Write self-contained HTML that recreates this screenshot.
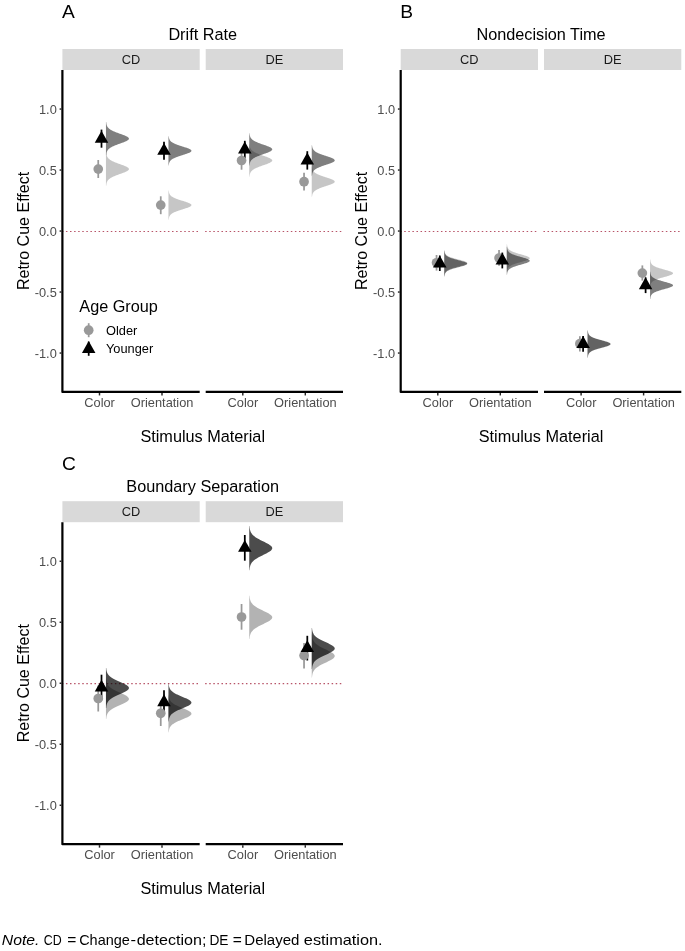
<!DOCTYPE html>
<html lang="en"><head><meta charset="utf-8"><title>Figure</title>
<style>html,body{margin:0;padding:0;background:#fff}svg{display:block}text{font-family:'Liberation Sans', Arial, sans-serif}</style>
</head><body>
<svg width="685" height="951" viewBox="0 0 685 951">
<rect width="685" height="951" fill="#fff"/>
<text x="62.00" y="17.60" font-size="19.2" fill="#000">A</text>
<text x="202.70" y="40.20" font-size="16.25" fill="#000" text-anchor="middle">Drift Rate</text>
<rect x="62.40" y="49.00" width="137.30" height="21.00" fill="#d9d9d9"/>
<text x="131.05" y="64.20" font-size="12.8" fill="#1a1a1a" text-anchor="middle">CD</text>
<line x1="61.85" y1="231.45" x2="199.70" y2="231.45" stroke="#b85468" stroke-width="1.15" stroke-dasharray="1.5 2.58"/>
<line x1="99.50" y1="392.95" x2="99.50" y2="395.45" stroke="#262626" stroke-width="1.45"/>
<text x="99.60" y="406.90" font-size="12.8" fill="#4d4d4d" text-anchor="middle">Color</text>
<line x1="162.00" y1="392.95" x2="162.00" y2="395.45" stroke="#262626" stroke-width="1.45"/>
<text x="162.10" y="406.90" font-size="12.8" fill="#4d4d4d" text-anchor="middle">Orientation</text>
<rect x="205.70" y="49.00" width="137.30" height="21.00" fill="#d9d9d9"/>
<text x="274.35" y="64.20" font-size="12.8" fill="#1a1a1a" text-anchor="middle">DE</text>
<line x1="205.15" y1="231.45" x2="343.00" y2="231.45" stroke="#b85468" stroke-width="1.15" stroke-dasharray="1.5 2.58"/>
<line x1="205.70" y1="391.95" x2="343.00" y2="391.95" stroke="#000" stroke-width="2.2"/>
<line x1="242.80" y1="392.95" x2="242.80" y2="395.45" stroke="#262626" stroke-width="1.45"/>
<text x="242.90" y="406.90" font-size="12.8" fill="#4d4d4d" text-anchor="middle">Color</text>
<line x1="305.30" y1="392.95" x2="305.30" y2="395.45" stroke="#262626" stroke-width="1.45"/>
<text x="305.40" y="406.90" font-size="12.8" fill="#4d4d4d" text-anchor="middle">Orientation</text>
<path d="M62.40 70.00 L62.40 391.95 L199.70 391.95" fill="none" stroke="#000" stroke-width="2.2" stroke-linejoin="round"/>
<line x1="59.60" y1="109.05" x2="61.40" y2="109.05" stroke="#262626" stroke-width="1.45"/>
<text x="56.80" y="114.00" font-size="12.8" fill="#4d4d4d" text-anchor="end">1.0</text>
<line x1="59.60" y1="170.05" x2="61.40" y2="170.05" stroke="#262626" stroke-width="1.45"/>
<text x="56.80" y="175.00" font-size="12.8" fill="#4d4d4d" text-anchor="end">0.5</text>
<line x1="59.60" y1="231.05" x2="61.40" y2="231.05" stroke="#262626" stroke-width="1.45"/>
<text x="56.80" y="236.00" font-size="12.8" fill="#4d4d4d" text-anchor="end">0.0</text>
<line x1="59.60" y1="292.05" x2="61.40" y2="292.05" stroke="#262626" stroke-width="1.45"/>
<text x="56.80" y="297.00" font-size="12.8" fill="#4d4d4d" text-anchor="end">-0.5</text>
<line x1="59.60" y1="353.05" x2="61.40" y2="353.05" stroke="#262626" stroke-width="1.45"/>
<text x="56.80" y="358.00" font-size="12.8" fill="#4d4d4d" text-anchor="end">-1.0</text>
<text transform="translate(28.80 230.97) rotate(-90)" font-size="16.05" fill="#000" text-anchor="middle">Retro Cue Effect</text>
<text x="202.70" y="441.70" font-size="16.25" fill="#000" text-anchor="middle">Stimulus Material</text>
<path d="M105.95 152.44 L106.22 152.44 L106.26 152.86 L106.30 153.28 L106.36 153.69 L106.42 154.11 L106.49 154.53 L106.58 154.94 L106.69 155.36 L106.82 155.78 L106.97 156.19 L107.16 156.61 L107.38 157.03 L107.63 157.44 L107.93 157.86 L108.28 158.27 L108.69 158.69 L109.15 159.11 L109.67 159.52 L110.26 159.94 L110.93 160.36 L111.66 160.77 L112.46 161.19 L113.34 161.61 L114.28 162.02 L115.29 162.44 L116.35 162.85 L117.46 163.27 L118.60 163.69 L119.76 164.10 L120.92 164.52 L122.07 164.94 L123.20 165.35 L124.27 165.77 L125.27 166.19 L126.18 166.60 L126.99 167.02 L127.67 167.43 L128.22 167.85 L128.62 168.27 L128.87 168.68 L128.95 169.10 L128.87 169.52 L128.62 169.93 L128.22 170.35 L127.67 170.77 L126.99 171.18 L126.18 171.60 L125.27 172.01 L124.27 172.43 L123.20 172.85 L122.07 173.26 L120.92 173.68 L119.76 174.10 L118.60 174.51 L117.46 174.93 L116.35 175.35 L115.29 175.76 L114.28 176.18 L113.34 176.59 L112.46 177.01 L111.66 177.43 L110.93 177.84 L110.26 178.26 L109.67 178.68 L109.15 179.09 L108.69 179.51 L108.28 179.93 L107.93 180.34 L107.63 180.76 L107.38 181.17 L107.16 181.59 L106.97 182.01 L106.82 182.42 L106.69 182.84 L106.58 183.26 L106.49 183.67 L106.42 184.09 L106.36 184.51 L106.30 184.92 L106.26 185.34 L106.22 185.76 L105.95 185.76 Z" fill="#999" fill-opacity="0.56"/>
<path d="M168.45 190.57 L168.72 190.57 L168.76 190.94 L168.80 191.30 L168.85 191.66 L168.91 192.03 L168.99 192.39 L169.08 192.75 L169.18 193.12 L169.31 193.48 L169.46 193.84 L169.65 194.21 L169.86 194.57 L170.12 194.93 L170.42 195.30 L170.76 195.66 L171.16 196.02 L171.62 196.38 L172.15 196.75 L172.74 197.11 L173.40 197.47 L174.13 197.84 L174.93 198.20 L175.81 198.56 L176.75 198.93 L177.76 199.29 L178.82 199.65 L179.93 200.02 L181.07 200.38 L182.23 200.74 L183.40 201.11 L184.55 201.47 L185.68 201.83 L186.75 202.19 L187.75 202.56 L188.67 202.92 L189.48 203.28 L190.17 203.65 L190.72 204.01 L191.12 204.37 L191.37 204.74 L191.45 205.10 L191.37 205.46 L191.12 205.83 L190.72 206.19 L190.17 206.55 L189.48 206.92 L188.67 207.28 L187.75 207.64 L186.75 208.01 L185.68 208.37 L184.55 208.73 L183.40 209.09 L182.23 209.46 L181.07 209.82 L179.93 210.18 L178.82 210.55 L177.76 210.91 L176.75 211.27 L175.81 211.64 L174.93 212.00 L174.13 212.36 L173.40 212.73 L172.74 213.09 L172.15 213.45 L171.62 213.82 L171.16 214.18 L170.76 214.54 L170.42 214.90 L170.12 215.27 L169.86 215.63 L169.65 215.99 L169.46 216.36 L169.31 216.72 L169.18 217.08 L169.08 217.45 L168.99 217.81 L168.91 218.17 L168.85 218.54 L168.80 218.90 L168.76 219.26 L168.72 219.63 L168.45 219.63 Z" fill="#999" fill-opacity="0.56"/>
<path d="M249.25 144.28 L249.52 144.28 L249.56 144.69 L249.60 145.09 L249.65 145.50 L249.71 145.90 L249.79 146.31 L249.88 146.71 L249.98 147.12 L250.11 147.52 L250.27 147.93 L250.45 148.33 L250.66 148.74 L250.92 149.15 L251.22 149.55 L251.57 149.96 L251.97 150.36 L252.43 150.77 L252.95 151.17 L253.54 151.58 L254.20 151.98 L254.93 152.39 L255.74 152.80 L256.61 153.20 L257.56 153.61 L258.56 154.01 L259.62 154.42 L260.73 154.82 L261.87 155.23 L263.03 155.63 L264.20 156.04 L265.36 156.44 L266.48 156.85 L267.55 157.26 L268.56 157.66 L269.47 158.07 L270.28 158.47 L270.97 158.88 L271.52 159.28 L271.92 159.69 L272.17 160.09 L272.25 160.50 L272.17 160.91 L271.92 161.31 L271.52 161.72 L270.97 162.12 L270.28 162.53 L269.47 162.93 L268.56 163.34 L267.55 163.74 L266.48 164.15 L265.36 164.56 L264.20 164.96 L263.03 165.37 L261.87 165.77 L260.73 166.18 L259.62 166.58 L258.56 166.99 L257.56 167.39 L256.61 167.80 L255.74 168.20 L254.93 168.61 L254.20 169.02 L253.54 169.42 L252.95 169.83 L252.43 170.23 L251.97 170.64 L251.57 171.04 L251.22 171.45 L250.92 171.85 L250.66 172.26 L250.45 172.67 L250.27 173.07 L250.11 173.48 L249.98 173.88 L249.88 174.29 L249.79 174.69 L249.71 175.10 L249.65 175.50 L249.60 175.91 L249.56 176.31 L249.52 176.72 L249.25 176.72 Z" fill="#999" fill-opacity="0.56"/>
<path d="M311.75 166.59 L312.02 166.59 L312.06 166.97 L312.10 167.35 L312.16 167.73 L312.22 168.11 L312.29 168.48 L312.38 168.86 L312.49 169.24 L312.62 169.62 L312.78 169.99 L312.96 170.37 L313.18 170.75 L313.44 171.13 L313.74 171.50 L314.09 171.88 L314.49 172.26 L314.95 172.64 L315.48 173.01 L316.07 173.39 L316.73 173.77 L317.47 174.15 L318.27 174.52 L319.15 174.90 L320.09 175.28 L321.10 175.66 L322.16 176.04 L323.27 176.41 L324.41 176.79 L325.56 177.17 L326.73 177.55 L327.88 177.92 L329.00 178.30 L330.07 178.68 L331.07 179.06 L331.98 179.43 L332.79 179.81 L333.48 180.19 L334.02 180.57 L334.42 180.94 L334.67 181.32 L334.75 181.70 L334.67 182.08 L334.42 182.46 L334.02 182.83 L333.48 183.21 L332.79 183.59 L331.98 183.97 L331.07 184.34 L330.07 184.72 L329.00 185.10 L327.88 185.48 L326.73 185.85 L325.56 186.23 L324.41 186.61 L323.27 186.99 L322.16 187.36 L321.10 187.74 L320.09 188.12 L319.15 188.50 L318.27 188.88 L317.47 189.25 L316.73 189.63 L316.07 190.01 L315.48 190.39 L314.95 190.76 L314.49 191.14 L314.09 191.52 L313.74 191.90 L313.44 192.27 L313.18 192.65 L312.96 193.03 L312.78 193.41 L312.62 193.78 L312.49 194.16 L312.38 194.54 L312.29 194.92 L312.22 195.29 L312.16 195.67 L312.10 196.05 L312.06 196.43 L312.02 196.81 L311.75 196.81 Z" fill="#999" fill-opacity="0.56"/>
<path d="M105.95 122.04 L106.22 122.04 L106.26 122.46 L106.30 122.88 L106.36 123.29 L106.42 123.71 L106.49 124.13 L106.58 124.54 L106.69 124.96 L106.82 125.38 L106.97 125.79 L107.16 126.21 L107.38 126.63 L107.63 127.04 L107.93 127.46 L108.28 127.87 L108.69 128.29 L109.15 128.71 L109.67 129.12 L110.26 129.54 L110.93 129.96 L111.66 130.37 L112.46 130.79 L113.34 131.21 L114.28 131.62 L115.29 132.04 L116.35 132.45 L117.46 132.87 L118.60 133.29 L119.76 133.70 L120.92 134.12 L122.07 134.54 L123.20 134.95 L124.27 135.37 L125.27 135.79 L126.18 136.20 L126.99 136.62 L127.67 137.03 L128.22 137.45 L128.62 137.87 L128.87 138.28 L128.95 138.70 L128.87 139.12 L128.62 139.53 L128.22 139.95 L127.67 140.37 L126.99 140.78 L126.18 141.20 L125.27 141.61 L124.27 142.03 L123.20 142.45 L122.07 142.86 L120.92 143.28 L119.76 143.70 L118.60 144.11 L117.46 144.53 L116.35 144.95 L115.29 145.36 L114.28 145.78 L113.34 146.19 L112.46 146.61 L111.66 147.03 L110.93 147.44 L110.26 147.86 L109.67 148.28 L109.15 148.69 L108.69 149.11 L108.28 149.53 L107.93 149.94 L107.63 150.36 L107.38 150.77 L107.16 151.19 L106.97 151.61 L106.82 152.02 L106.69 152.44 L106.58 152.86 L106.49 153.27 L106.42 153.69 L106.36 154.11 L106.30 154.52 L106.26 154.94 L106.22 155.36 L105.95 155.36 Z" fill="#000" fill-opacity="0.5"/>
<path d="M168.45 136.13 L168.72 136.13 L168.76 136.50 L168.80 136.86 L168.85 137.23 L168.91 137.60 L168.99 137.96 L169.08 138.33 L169.19 138.70 L169.31 139.06 L169.47 139.43 L169.65 139.80 L169.87 140.16 L170.12 140.53 L170.42 140.90 L170.77 141.26 L171.17 141.63 L171.63 142.00 L172.15 142.36 L172.74 142.73 L173.40 143.10 L174.14 143.46 L174.94 143.83 L175.82 144.20 L176.76 144.56 L177.77 144.93 L178.83 145.30 L179.94 145.67 L181.08 146.03 L182.24 146.40 L183.41 146.77 L184.56 147.13 L185.68 147.50 L186.76 147.87 L187.76 148.23 L188.67 148.60 L189.48 148.97 L190.17 149.33 L190.72 149.70 L191.12 150.07 L191.37 150.43 L191.45 150.80 L191.37 151.17 L191.12 151.53 L190.72 151.90 L190.17 152.27 L189.48 152.63 L188.67 153.00 L187.76 153.37 L186.76 153.73 L185.68 154.10 L184.56 154.47 L183.41 154.83 L182.24 155.20 L181.08 155.57 L179.94 155.93 L178.83 156.30 L177.77 156.67 L176.76 157.04 L175.82 157.40 L174.94 157.77 L174.14 158.14 L173.40 158.50 L172.74 158.87 L172.15 159.24 L171.63 159.60 L171.17 159.97 L170.77 160.34 L170.42 160.70 L170.12 161.07 L169.87 161.44 L169.65 161.80 L169.47 162.17 L169.31 162.54 L169.19 162.90 L169.08 163.27 L168.99 163.64 L168.91 164.00 L168.85 164.37 L168.80 164.74 L168.76 165.10 L168.72 165.47 L168.45 165.47 Z" fill="#000" fill-opacity="0.5"/>
<path d="M249.25 133.18 L249.52 133.18 L249.56 133.59 L249.60 133.99 L249.65 134.40 L249.71 134.80 L249.79 135.21 L249.88 135.61 L249.98 136.02 L250.11 136.42 L250.27 136.83 L250.45 137.23 L250.66 137.64 L250.92 138.05 L251.22 138.45 L251.57 138.86 L251.97 139.26 L252.43 139.67 L252.95 140.07 L253.54 140.48 L254.20 140.88 L254.93 141.29 L255.74 141.70 L256.61 142.10 L257.56 142.51 L258.56 142.91 L259.62 143.32 L260.73 143.72 L261.87 144.13 L263.03 144.53 L264.20 144.94 L265.36 145.34 L266.48 145.75 L267.55 146.16 L268.56 146.56 L269.47 146.97 L270.28 147.37 L270.97 147.78 L271.52 148.18 L271.92 148.59 L272.17 148.99 L272.25 149.40 L272.17 149.81 L271.92 150.21 L271.52 150.62 L270.97 151.02 L270.28 151.43 L269.47 151.83 L268.56 152.24 L267.55 152.64 L266.48 153.05 L265.36 153.46 L264.20 153.86 L263.03 154.27 L261.87 154.67 L260.73 155.08 L259.62 155.48 L258.56 155.89 L257.56 156.29 L256.61 156.70 L255.74 157.10 L254.93 157.51 L254.20 157.92 L253.54 158.32 L252.95 158.73 L252.43 159.13 L251.97 159.54 L251.57 159.94 L251.22 160.35 L250.92 160.75 L250.66 161.16 L250.45 161.57 L250.27 161.97 L250.11 162.38 L249.98 162.78 L249.88 163.19 L249.79 163.59 L249.71 164.00 L249.65 164.40 L249.60 164.81 L249.56 165.21 L249.52 165.62 L249.25 165.62 Z" fill="#000" fill-opacity="0.5"/>
<path d="M311.75 145.15 L312.02 145.15 L312.06 145.53 L312.10 145.91 L312.16 146.29 L312.22 146.67 L312.30 147.06 L312.39 147.44 L312.49 147.82 L312.62 148.20 L312.78 148.58 L312.97 148.96 L313.18 149.34 L313.44 149.72 L313.74 150.11 L314.09 150.49 L314.50 150.87 L314.96 151.25 L315.49 151.63 L316.08 152.01 L316.74 152.39 L317.48 152.77 L318.28 153.16 L319.16 153.54 L320.10 153.92 L321.11 154.30 L322.17 154.68 L323.27 155.06 L324.41 155.44 L325.57 155.82 L326.74 156.21 L327.89 156.59 L329.01 156.97 L330.08 157.35 L331.08 157.73 L331.99 158.11 L332.79 158.49 L333.48 158.87 L334.03 159.26 L334.42 159.64 L334.67 160.02 L334.75 160.40 L334.67 160.78 L334.42 161.16 L334.03 161.54 L333.48 161.93 L332.79 162.31 L331.99 162.69 L331.08 163.07 L330.08 163.45 L329.01 163.83 L327.89 164.21 L326.74 164.59 L325.57 164.98 L324.41 165.36 L323.27 165.74 L322.17 166.12 L321.11 166.50 L320.10 166.88 L319.16 167.26 L318.28 167.64 L317.48 168.03 L316.74 168.41 L316.08 168.79 L315.49 169.17 L314.96 169.55 L314.50 169.93 L314.09 170.31 L313.74 170.69 L313.44 171.08 L313.18 171.46 L312.97 171.84 L312.78 172.22 L312.62 172.60 L312.49 172.98 L312.39 173.36 L312.30 173.74 L312.22 174.13 L312.16 174.51 L312.10 174.89 L312.06 175.27 L312.02 175.65 L311.75 175.65 Z" fill="#000" fill-opacity="0.5"/>
<line x1="101.50" y1="129.60" x2="101.50" y2="147.70" stroke="#000000" stroke-width="1.75"/>
<line x1="98.25" y1="160.00" x2="98.25" y2="178.00" stroke="#999999" stroke-width="1.75"/>
<line x1="164.00" y1="141.80" x2="164.00" y2="159.70" stroke="#000000" stroke-width="1.75"/>
<line x1="160.75" y1="196.30" x2="160.75" y2="214.20" stroke="#999999" stroke-width="1.75"/>
<line x1="244.80" y1="140.80" x2="244.80" y2="158.00" stroke="#000000" stroke-width="1.75"/>
<line x1="241.55" y1="151.30" x2="241.55" y2="169.70" stroke="#999999" stroke-width="1.75"/>
<line x1="307.30" y1="151.20" x2="307.30" y2="169.60" stroke="#000000" stroke-width="1.75"/>
<line x1="304.05" y1="172.80" x2="304.05" y2="190.60" stroke="#999999" stroke-width="1.75"/>
<circle cx="98.25" cy="169.10" r="4.85" fill="#999999"/>
<circle cx="160.75" cy="205.10" r="4.85" fill="#999999"/>
<circle cx="241.55" cy="160.50" r="4.85" fill="#999999"/>
<circle cx="304.05" cy="181.70" r="4.85" fill="#999999"/>
<path d="M101.50 130.80 L108.25 142.70 L94.75 142.70 Z" fill="#000000"/>
<path d="M164.00 142.90 L170.75 154.80 L157.25 154.80 Z" fill="#000000"/>
<path d="M244.80 141.50 L251.55 153.40 L238.05 153.40 Z" fill="#000000"/>
<path d="M307.30 152.50 L314.05 164.40 L300.55 164.40 Z" fill="#000000"/>
<text x="79.30" y="311.70" font-size="16.25" fill="#000">Age Group</text>
<line x1="88.70" y1="323.20" x2="88.70" y2="337.20" stroke="#999999" stroke-width="1.75"/><circle cx="88.70" cy="330.20" r="4.85" fill="#999999"/>
<line x1="88.70" y1="341.60" x2="88.70" y2="355.80" stroke="#000000" stroke-width="1.75"/><path d="M88.70 341.10 L95.45 353.00 L81.95 353.00 Z" fill="#000000"/>
<text x="106.00" y="334.90" font-size="12.8" fill="#000">Older</text>
<text x="106.00" y="353.20" font-size="12.8" fill="#000">Younger</text>
<text x="400.30" y="17.60" font-size="19.2" fill="#000">B</text>
<text x="541.00" y="40.20" font-size="16.25" fill="#000" text-anchor="middle">Nondecision Time</text>
<rect x="400.70" y="49.00" width="137.30" height="21.00" fill="#d9d9d9"/>
<text x="469.35" y="64.20" font-size="12.8" fill="#1a1a1a" text-anchor="middle">CD</text>
<line x1="400.15" y1="231.45" x2="538.00" y2="231.45" stroke="#b85468" stroke-width="1.15" stroke-dasharray="1.5 2.58"/>
<line x1="437.80" y1="392.95" x2="437.80" y2="395.45" stroke="#262626" stroke-width="1.45"/>
<text x="437.90" y="406.90" font-size="12.8" fill="#4d4d4d" text-anchor="middle">Color</text>
<line x1="500.30" y1="392.95" x2="500.30" y2="395.45" stroke="#262626" stroke-width="1.45"/>
<text x="500.40" y="406.90" font-size="12.8" fill="#4d4d4d" text-anchor="middle">Orientation</text>
<rect x="544.00" y="49.00" width="137.30" height="21.00" fill="#d9d9d9"/>
<text x="612.65" y="64.20" font-size="12.8" fill="#1a1a1a" text-anchor="middle">DE</text>
<line x1="543.45" y1="231.45" x2="681.30" y2="231.45" stroke="#b85468" stroke-width="1.15" stroke-dasharray="1.5 2.58"/>
<line x1="544.00" y1="391.95" x2="681.30" y2="391.95" stroke="#000" stroke-width="2.2"/>
<line x1="581.10" y1="392.95" x2="581.10" y2="395.45" stroke="#262626" stroke-width="1.45"/>
<text x="581.20" y="406.90" font-size="12.8" fill="#4d4d4d" text-anchor="middle">Color</text>
<line x1="643.60" y1="392.95" x2="643.60" y2="395.45" stroke="#262626" stroke-width="1.45"/>
<text x="643.70" y="406.90" font-size="12.8" fill="#4d4d4d" text-anchor="middle">Orientation</text>
<path d="M400.70 70.00 L400.70 391.95 L538.00 391.95" fill="none" stroke="#000" stroke-width="2.2" stroke-linejoin="round"/>
<line x1="397.90" y1="109.05" x2="399.70" y2="109.05" stroke="#262626" stroke-width="1.45"/>
<text x="395.10" y="114.00" font-size="12.8" fill="#4d4d4d" text-anchor="end">1.0</text>
<line x1="397.90" y1="170.05" x2="399.70" y2="170.05" stroke="#262626" stroke-width="1.45"/>
<text x="395.10" y="175.00" font-size="12.8" fill="#4d4d4d" text-anchor="end">0.5</text>
<line x1="397.90" y1="231.05" x2="399.70" y2="231.05" stroke="#262626" stroke-width="1.45"/>
<text x="395.10" y="236.00" font-size="12.8" fill="#4d4d4d" text-anchor="end">0.0</text>
<line x1="397.90" y1="292.05" x2="399.70" y2="292.05" stroke="#262626" stroke-width="1.45"/>
<text x="395.10" y="297.00" font-size="12.8" fill="#4d4d4d" text-anchor="end">-0.5</text>
<line x1="397.90" y1="353.05" x2="399.70" y2="353.05" stroke="#262626" stroke-width="1.45"/>
<text x="395.10" y="358.00" font-size="12.8" fill="#4d4d4d" text-anchor="end">-1.0</text>
<text transform="translate(367.10 230.97) rotate(-90)" font-size="16.05" fill="#000" text-anchor="middle">Retro Cue Effect</text>
<text x="541.00" y="441.70" font-size="16.25" fill="#000" text-anchor="middle">Stimulus Material</text>
<path d="M444.25 250.13 L444.52 250.13 L444.55 250.45 L444.59 250.77 L444.63 251.09 L444.68 251.42 L444.73 251.74 L444.80 252.06 L444.88 252.38 L444.97 252.70 L445.09 253.03 L445.23 253.35 L445.39 253.67 L445.59 253.99 L445.82 254.31 L446.10 254.63 L446.43 254.96 L446.81 255.28 L447.26 255.60 L447.77 255.92 L448.36 256.24 L449.02 256.56 L449.77 256.89 L450.60 257.21 L451.51 257.53 L452.49 257.85 L453.55 258.17 L454.68 258.50 L455.86 258.82 L457.08 259.14 L458.32 259.46 L459.56 259.78 L460.78 260.10 L461.96 260.43 L463.07 260.75 L464.10 261.07 L465.01 261.39 L465.79 261.71 L466.42 262.03 L466.88 262.36 L467.16 262.68 L467.25 263.00 L467.16 263.32 L466.88 263.64 L466.42 263.97 L465.79 264.29 L465.01 264.61 L464.10 264.93 L463.07 265.25 L461.96 265.57 L460.78 265.90 L459.56 266.22 L458.32 266.54 L457.08 266.86 L455.86 267.18 L454.68 267.50 L453.55 267.83 L452.49 268.15 L451.51 268.47 L450.60 268.79 L449.77 269.11 L449.02 269.44 L448.36 269.76 L447.77 270.08 L447.26 270.40 L446.81 270.72 L446.43 271.04 L446.10 271.37 L445.82 271.69 L445.59 272.01 L445.39 272.33 L445.23 272.65 L445.09 272.97 L444.97 273.30 L444.88 273.62 L444.80 273.94 L444.73 274.26 L444.68 274.58 L444.63 274.91 L444.59 275.23 L444.55 275.55 L444.52 275.87 L444.25 275.87 Z" fill="#999" fill-opacity="0.56"/>
<path d="M506.75 244.22 L507.02 244.22 L507.05 244.57 L507.09 244.92 L507.13 245.27 L507.18 245.62 L507.24 245.97 L507.31 246.32 L507.39 246.66 L507.48 247.01 L507.60 247.36 L507.74 247.71 L507.91 248.06 L508.11 248.41 L508.34 248.76 L508.63 249.11 L508.96 249.46 L509.34 249.81 L509.79 250.16 L510.31 250.51 L510.90 250.86 L511.57 251.21 L512.31 251.56 L513.14 251.91 L514.06 252.26 L515.04 252.61 L516.11 252.96 L517.23 253.31 L518.41 253.66 L519.62 254.01 L520.86 254.35 L522.10 254.70 L523.31 255.05 L524.49 255.40 L525.60 255.75 L526.62 256.10 L527.52 256.45 L528.30 256.80 L528.92 257.15 L529.38 257.50 L529.66 257.85 L529.75 258.20 L529.66 258.55 L529.38 258.90 L528.92 259.25 L528.30 259.60 L527.52 259.95 L526.62 260.30 L525.60 260.65 L524.49 261.00 L523.31 261.35 L522.10 261.70 L520.86 262.05 L519.62 262.39 L518.41 262.74 L517.23 263.09 L516.11 263.44 L515.04 263.79 L514.06 264.14 L513.14 264.49 L512.31 264.84 L511.57 265.19 L510.90 265.54 L510.31 265.89 L509.79 266.24 L509.34 266.59 L508.96 266.94 L508.63 267.29 L508.34 267.64 L508.11 267.99 L507.91 268.34 L507.74 268.69 L507.60 269.04 L507.48 269.39 L507.39 269.74 L507.31 270.08 L507.24 270.43 L507.18 270.78 L507.13 271.13 L507.09 271.48 L507.05 271.83 L507.02 272.18 L506.75 272.18 Z" fill="#999" fill-opacity="0.56"/>
<path d="M587.55 330.35 L587.82 330.35 L587.85 330.69 L587.88 331.03 L587.93 331.37 L587.97 331.71 L588.03 332.04 L588.10 332.38 L588.18 332.72 L588.27 333.06 L588.38 333.40 L588.52 333.74 L588.68 334.08 L588.88 334.42 L589.11 334.75 L589.39 335.09 L589.72 335.43 L590.10 335.77 L590.54 336.11 L591.06 336.45 L591.64 336.79 L592.30 337.13 L593.05 337.46 L593.88 337.80 L594.78 338.14 L595.77 338.48 L596.83 338.82 L597.96 339.16 L599.14 339.50 L600.36 339.84 L601.60 340.17 L602.84 340.51 L604.06 340.85 L605.25 341.19 L606.36 341.53 L607.39 341.87 L608.31 342.21 L609.09 342.55 L609.71 342.88 L610.17 343.22 L610.46 343.56 L610.55 343.90 L610.46 344.24 L610.17 344.58 L609.71 344.92 L609.09 345.25 L608.31 345.59 L607.39 345.93 L606.36 346.27 L605.25 346.61 L604.06 346.95 L602.84 347.29 L601.60 347.63 L600.36 347.96 L599.14 348.30 L597.96 348.64 L596.83 348.98 L595.77 349.32 L594.78 349.66 L593.88 350.00 L593.05 350.34 L592.30 350.67 L591.64 351.01 L591.06 351.35 L590.54 351.69 L590.10 352.03 L589.72 352.37 L589.39 352.71 L589.11 353.05 L588.88 353.38 L588.68 353.72 L588.52 354.06 L588.38 354.40 L588.27 354.74 L588.18 355.08 L588.10 355.42 L588.03 355.76 L587.97 356.09 L587.93 356.43 L587.88 356.77 L587.85 357.11 L587.82 357.45 L587.55 357.45 Z" fill="#999" fill-opacity="0.56"/>
<path d="M650.05 259.61 L650.32 259.61 L650.35 259.95 L650.39 260.29 L650.43 260.63 L650.48 260.98 L650.53 261.32 L650.60 261.66 L650.68 262.00 L650.78 262.35 L650.89 262.69 L651.03 263.03 L651.19 263.37 L651.39 263.71 L651.62 264.06 L651.90 264.40 L652.23 264.74 L652.61 265.08 L653.06 265.43 L653.57 265.77 L654.16 266.11 L654.83 266.45 L655.57 266.80 L656.40 267.14 L657.31 267.48 L658.30 267.82 L659.36 268.17 L660.48 268.51 L661.66 268.85 L662.88 269.19 L664.12 269.53 L665.36 269.88 L666.58 270.22 L667.76 270.56 L668.88 270.90 L669.90 271.25 L670.81 271.59 L671.59 271.93 L672.22 272.27 L672.68 272.62 L672.96 272.96 L673.05 273.30 L672.96 273.64 L672.68 273.98 L672.22 274.33 L671.59 274.67 L670.81 275.01 L669.90 275.35 L668.88 275.70 L667.76 276.04 L666.58 276.38 L665.36 276.72 L664.12 277.07 L662.88 277.41 L661.66 277.75 L660.48 278.09 L659.36 278.43 L658.30 278.78 L657.31 279.12 L656.40 279.46 L655.57 279.80 L654.83 280.15 L654.16 280.49 L653.57 280.83 L653.06 281.17 L652.61 281.52 L652.23 281.86 L651.90 282.20 L651.62 282.54 L651.39 282.89 L651.19 283.23 L651.03 283.57 L650.89 283.91 L650.78 284.25 L650.68 284.60 L650.60 284.94 L650.53 285.28 L650.48 285.62 L650.43 285.97 L650.39 286.31 L650.35 286.65 L650.32 286.99 L650.05 286.99 Z" fill="#999" fill-opacity="0.56"/>
<path d="M444.25 250.83 L444.52 250.83 L444.55 251.15 L444.59 251.47 L444.63 251.79 L444.68 252.12 L444.73 252.44 L444.80 252.76 L444.88 253.08 L444.97 253.40 L445.09 253.73 L445.23 254.05 L445.39 254.37 L445.59 254.69 L445.82 255.01 L446.10 255.33 L446.43 255.66 L446.81 255.98 L447.26 256.30 L447.77 256.62 L448.36 256.94 L449.02 257.26 L449.77 257.59 L450.60 257.91 L451.51 258.23 L452.49 258.55 L453.55 258.87 L454.68 259.20 L455.86 259.52 L457.08 259.84 L458.32 260.16 L459.56 260.48 L460.78 260.80 L461.96 261.13 L463.07 261.45 L464.10 261.77 L465.01 262.09 L465.79 262.41 L466.42 262.73 L466.88 263.06 L467.16 263.38 L467.25 263.70 L467.16 264.02 L466.88 264.34 L466.42 264.67 L465.79 264.99 L465.01 265.31 L464.10 265.63 L463.07 265.95 L461.96 266.27 L460.78 266.60 L459.56 266.92 L458.32 267.24 L457.08 267.56 L455.86 267.88 L454.68 268.20 L453.55 268.53 L452.49 268.85 L451.51 269.17 L450.60 269.49 L449.77 269.81 L449.02 270.14 L448.36 270.46 L447.77 270.78 L447.26 271.10 L446.81 271.42 L446.43 271.74 L446.10 272.07 L445.82 272.39 L445.59 272.71 L445.39 273.03 L445.23 273.35 L445.09 273.67 L444.97 274.00 L444.88 274.32 L444.80 274.64 L444.73 274.96 L444.68 275.28 L444.63 275.61 L444.59 275.93 L444.55 276.25 L444.52 276.57 L444.25 276.57 Z" fill="#000" fill-opacity="0.5"/>
<path d="M506.75 246.82 L507.02 246.82 L507.05 247.17 L507.09 247.52 L507.13 247.87 L507.18 248.22 L507.24 248.57 L507.31 248.92 L507.39 249.26 L507.48 249.61 L507.60 249.96 L507.74 250.31 L507.91 250.66 L508.11 251.01 L508.34 251.36 L508.63 251.71 L508.96 252.06 L509.34 252.41 L509.79 252.76 L510.31 253.11 L510.90 253.46 L511.57 253.81 L512.31 254.16 L513.14 254.51 L514.06 254.86 L515.04 255.21 L516.11 255.56 L517.23 255.91 L518.41 256.26 L519.62 256.61 L520.86 256.95 L522.10 257.30 L523.31 257.65 L524.49 258.00 L525.60 258.35 L526.62 258.70 L527.52 259.05 L528.30 259.40 L528.92 259.75 L529.38 260.10 L529.66 260.45 L529.75 260.80 L529.66 261.15 L529.38 261.50 L528.92 261.85 L528.30 262.20 L527.52 262.55 L526.62 262.90 L525.60 263.25 L524.49 263.60 L523.31 263.95 L522.10 264.30 L520.86 264.65 L519.62 264.99 L518.41 265.34 L517.23 265.69 L516.11 266.04 L515.04 266.39 L514.06 266.74 L513.14 267.09 L512.31 267.44 L511.57 267.79 L510.90 268.14 L510.31 268.49 L509.79 268.84 L509.34 269.19 L508.96 269.54 L508.63 269.89 L508.34 270.24 L508.11 270.59 L507.91 270.94 L507.74 271.29 L507.60 271.64 L507.48 271.99 L507.39 272.34 L507.31 272.68 L507.24 273.03 L507.18 273.38 L507.13 273.73 L507.09 274.08 L507.05 274.43 L507.02 274.78 L506.75 274.78 Z" fill="#000" fill-opacity="0.5"/>
<path d="M587.55 330.55 L587.82 330.55 L587.85 330.89 L587.88 331.23 L587.93 331.57 L587.97 331.91 L588.03 332.24 L588.10 332.58 L588.18 332.92 L588.27 333.26 L588.38 333.60 L588.52 333.94 L588.68 334.28 L588.88 334.62 L589.11 334.95 L589.39 335.29 L589.72 335.63 L590.10 335.97 L590.54 336.31 L591.06 336.65 L591.64 336.99 L592.30 337.33 L593.05 337.66 L593.88 338.00 L594.78 338.34 L595.77 338.68 L596.83 339.02 L597.96 339.36 L599.14 339.70 L600.36 340.04 L601.60 340.37 L602.84 340.71 L604.06 341.05 L605.25 341.39 L606.36 341.73 L607.39 342.07 L608.31 342.41 L609.09 342.75 L609.71 343.08 L610.17 343.42 L610.46 343.76 L610.55 344.10 L610.46 344.44 L610.17 344.78 L609.71 345.12 L609.09 345.45 L608.31 345.79 L607.39 346.13 L606.36 346.47 L605.25 346.81 L604.06 347.15 L602.84 347.49 L601.60 347.83 L600.36 348.16 L599.14 348.50 L597.96 348.84 L596.83 349.18 L595.77 349.52 L594.78 349.86 L593.88 350.20 L593.05 350.54 L592.30 350.87 L591.64 351.21 L591.06 351.55 L590.54 351.89 L590.10 352.23 L589.72 352.57 L589.39 352.91 L589.11 353.25 L588.88 353.58 L588.68 353.92 L588.52 354.26 L588.38 354.60 L588.27 354.94 L588.18 355.28 L588.10 355.62 L588.03 355.96 L587.97 356.29 L587.93 356.63 L587.88 356.97 L587.85 357.31 L587.82 357.65 L587.55 357.65 Z" fill="#000" fill-opacity="0.5"/>
<path d="M650.05 271.71 L650.32 271.71 L650.35 272.05 L650.39 272.39 L650.43 272.73 L650.48 273.08 L650.53 273.42 L650.60 273.76 L650.68 274.10 L650.78 274.45 L650.89 274.79 L651.03 275.13 L651.19 275.47 L651.39 275.81 L651.62 276.16 L651.90 276.50 L652.23 276.84 L652.61 277.18 L653.06 277.53 L653.57 277.87 L654.16 278.21 L654.83 278.55 L655.57 278.90 L656.40 279.24 L657.31 279.58 L658.30 279.92 L659.36 280.27 L660.48 280.61 L661.66 280.95 L662.88 281.29 L664.12 281.63 L665.36 281.98 L666.58 282.32 L667.76 282.66 L668.88 283.00 L669.90 283.35 L670.81 283.69 L671.59 284.03 L672.22 284.37 L672.68 284.72 L672.96 285.06 L673.05 285.40 L672.96 285.74 L672.68 286.08 L672.22 286.43 L671.59 286.77 L670.81 287.11 L669.90 287.45 L668.88 287.80 L667.76 288.14 L666.58 288.48 L665.36 288.82 L664.12 289.17 L662.88 289.51 L661.66 289.85 L660.48 290.19 L659.36 290.53 L658.30 290.88 L657.31 291.22 L656.40 291.56 L655.57 291.90 L654.83 292.25 L654.16 292.59 L653.57 292.93 L653.06 293.27 L652.61 293.62 L652.23 293.96 L651.90 294.30 L651.62 294.64 L651.39 294.99 L651.19 295.33 L651.03 295.67 L650.89 296.01 L650.78 296.35 L650.68 296.70 L650.60 297.04 L650.53 297.38 L650.48 297.72 L650.43 298.07 L650.39 298.41 L650.35 298.75 L650.32 299.09 L650.05 299.09 Z" fill="#000" fill-opacity="0.5"/>
<line x1="439.80" y1="255.50" x2="439.80" y2="271.00" stroke="#000000" stroke-width="1.75"/>
<line x1="436.55" y1="255.00" x2="436.55" y2="270.60" stroke="#999999" stroke-width="1.75"/>
<line x1="502.30" y1="252.60" x2="502.30" y2="268.40" stroke="#000000" stroke-width="1.75"/>
<line x1="499.05" y1="250.00" x2="499.05" y2="265.80" stroke="#999999" stroke-width="1.75"/>
<line x1="583.10" y1="336.00" x2="583.10" y2="351.70" stroke="#000000" stroke-width="1.75"/>
<line x1="579.85" y1="336.20" x2="579.85" y2="351.50" stroke="#999999" stroke-width="1.75"/>
<line x1="645.60" y1="277.30" x2="645.60" y2="293.10" stroke="#000000" stroke-width="1.75"/>
<line x1="642.35" y1="265.40" x2="642.35" y2="280.60" stroke="#999999" stroke-width="1.75"/>
<circle cx="436.55" cy="262.80" r="4.85" fill="#999999"/>
<circle cx="499.05" cy="258.00" r="4.85" fill="#999999"/>
<circle cx="579.85" cy="343.70" r="4.85" fill="#999999"/>
<circle cx="642.35" cy="273.10" r="4.85" fill="#999999"/>
<path d="M439.80 255.60 L446.55 267.50 L433.05 267.50 Z" fill="#000000"/>
<path d="M502.30 252.70 L509.05 264.60 L495.55 264.60 Z" fill="#000000"/>
<path d="M583.10 336.00 L589.85 347.90 L576.35 347.90 Z" fill="#000000"/>
<path d="M645.60 277.30 L652.35 289.20 L638.85 289.20 Z" fill="#000000"/>
<text x="62.00" y="469.80" font-size="19.2" fill="#000">C</text>
<text x="202.70" y="492.40" font-size="16.25" fill="#000" text-anchor="middle">Boundary Separation</text>
<rect x="62.40" y="501.20" width="137.30" height="21.00" fill="#d9d9d9"/>
<text x="131.05" y="516.40" font-size="12.8" fill="#1a1a1a" text-anchor="middle">CD</text>
<line x1="61.85" y1="683.65" x2="199.70" y2="683.65" stroke="#b85468" stroke-width="1.15" stroke-dasharray="1.5 2.58"/>
<line x1="99.50" y1="845.15" x2="99.50" y2="847.65" stroke="#262626" stroke-width="1.45"/>
<text x="99.60" y="859.10" font-size="12.8" fill="#4d4d4d" text-anchor="middle">Color</text>
<line x1="162.00" y1="845.15" x2="162.00" y2="847.65" stroke="#262626" stroke-width="1.45"/>
<text x="162.10" y="859.10" font-size="12.8" fill="#4d4d4d" text-anchor="middle">Orientation</text>
<rect x="205.70" y="501.20" width="137.30" height="21.00" fill="#d9d9d9"/>
<text x="274.35" y="516.40" font-size="12.8" fill="#1a1a1a" text-anchor="middle">DE</text>
<line x1="205.15" y1="683.65" x2="343.00" y2="683.65" stroke="#b85468" stroke-width="1.15" stroke-dasharray="1.5 2.58"/>
<line x1="205.70" y1="844.15" x2="343.00" y2="844.15" stroke="#000" stroke-width="2.2"/>
<line x1="242.80" y1="845.15" x2="242.80" y2="847.65" stroke="#262626" stroke-width="1.45"/>
<text x="242.90" y="859.10" font-size="12.8" fill="#4d4d4d" text-anchor="middle">Color</text>
<line x1="305.30" y1="845.15" x2="305.30" y2="847.65" stroke="#262626" stroke-width="1.45"/>
<text x="305.40" y="859.10" font-size="12.8" fill="#4d4d4d" text-anchor="middle">Orientation</text>
<path d="M62.40 522.20 L62.40 844.15 L199.70 844.15" fill="none" stroke="#000" stroke-width="2.2" stroke-linejoin="round"/>
<line x1="59.60" y1="561.25" x2="61.40" y2="561.25" stroke="#262626" stroke-width="1.45"/>
<text x="56.80" y="566.20" font-size="12.8" fill="#4d4d4d" text-anchor="end">1.0</text>
<line x1="59.60" y1="622.25" x2="61.40" y2="622.25" stroke="#262626" stroke-width="1.45"/>
<text x="56.80" y="627.20" font-size="12.8" fill="#4d4d4d" text-anchor="end">0.5</text>
<line x1="59.60" y1="683.25" x2="61.40" y2="683.25" stroke="#262626" stroke-width="1.45"/>
<text x="56.80" y="688.20" font-size="12.8" fill="#4d4d4d" text-anchor="end">0.0</text>
<line x1="59.60" y1="744.25" x2="61.40" y2="744.25" stroke="#262626" stroke-width="1.45"/>
<text x="56.80" y="749.20" font-size="12.8" fill="#4d4d4d" text-anchor="end">-0.5</text>
<line x1="59.60" y1="805.25" x2="61.40" y2="805.25" stroke="#262626" stroke-width="1.45"/>
<text x="56.80" y="810.20" font-size="12.8" fill="#4d4d4d" text-anchor="end">-1.0</text>
<text transform="translate(28.80 683.17) rotate(-90)" font-size="16.05" fill="#000" text-anchor="middle">Retro Cue Effect</text>
<text x="202.70" y="893.90" font-size="16.25" fill="#000" text-anchor="middle">Stimulus Material</text>
<path d="M105.95 678.69 L106.22 678.69 L106.26 679.20 L106.31 679.70 L106.37 680.21 L106.44 680.71 L106.53 681.22 L106.63 681.72 L106.76 682.23 L106.91 682.73 L107.09 683.24 L107.30 683.74 L107.54 684.25 L107.83 684.75 L108.16 685.26 L108.55 685.76 L108.98 686.27 L109.48 686.78 L110.04 687.28 L110.67 687.79 L111.36 688.29 L112.12 688.80 L112.95 689.30 L113.84 689.81 L114.79 690.31 L115.80 690.82 L116.85 691.32 L117.94 691.83 L119.06 692.33 L120.19 692.84 L121.32 693.34 L122.43 693.85 L123.50 694.35 L124.53 694.86 L125.48 695.36 L126.34 695.87 L127.11 696.37 L127.75 696.88 L128.27 697.38 L128.64 697.89 L128.87 698.39 L128.95 698.90 L128.87 699.41 L128.64 699.91 L128.27 700.42 L127.75 700.92 L127.11 701.43 L126.34 701.93 L125.48 702.44 L124.53 702.94 L123.50 703.45 L122.43 703.95 L121.32 704.46 L120.19 704.96 L119.06 705.47 L117.94 705.97 L116.85 706.48 L115.80 706.98 L114.79 707.49 L113.84 707.99 L112.95 708.50 L112.12 709.00 L111.36 709.51 L110.67 710.01 L110.04 710.52 L109.48 711.02 L108.98 711.53 L108.55 712.04 L108.16 712.54 L107.83 713.05 L107.54 713.55 L107.30 714.06 L107.09 714.56 L106.91 715.07 L106.76 715.57 L106.63 716.08 L106.53 716.58 L106.44 717.09 L106.37 717.59 L106.31 718.10 L106.26 718.60 L106.22 719.11 L105.95 719.11 Z" fill="#999" fill-opacity="0.74"/>
<path d="M168.45 695.19 L168.72 695.19 L168.76 695.66 L168.82 696.12 L168.88 696.58 L168.95 697.04 L169.04 697.51 L169.14 697.97 L169.27 698.43 L169.42 698.90 L169.60 699.36 L169.81 699.82 L170.06 700.28 L170.35 700.75 L170.68 701.21 L171.07 701.67 L171.51 702.13 L172.01 702.60 L172.57 703.06 L173.20 703.52 L173.89 703.98 L174.65 704.45 L175.48 704.91 L176.38 705.37 L177.33 705.83 L178.34 706.30 L179.39 706.76 L180.48 707.22 L181.60 707.69 L182.72 708.15 L183.85 708.61 L184.95 709.07 L186.03 709.54 L187.04 710.00 L187.99 710.46 L188.86 710.92 L189.61 711.39 L190.26 711.85 L190.77 712.31 L191.15 712.77 L191.37 713.24 L191.45 713.70 L191.37 714.16 L191.15 714.63 L190.77 715.09 L190.26 715.55 L189.61 716.01 L188.86 716.48 L187.99 716.94 L187.04 717.40 L186.03 717.86 L184.95 718.33 L183.85 718.79 L182.72 719.25 L181.60 719.71 L180.48 720.18 L179.39 720.64 L178.34 721.10 L177.33 721.57 L176.38 722.03 L175.48 722.49 L174.65 722.95 L173.89 723.42 L173.20 723.88 L172.57 724.34 L172.01 724.80 L171.51 725.27 L171.07 725.73 L170.68 726.19 L170.35 726.65 L170.06 727.12 L169.81 727.58 L169.60 728.04 L169.42 728.50 L169.27 728.97 L169.14 729.43 L169.04 729.89 L168.95 730.36 L168.88 730.82 L168.82 731.28 L168.76 731.74 L168.72 732.21 L168.45 732.21 Z" fill="#999" fill-opacity="0.74"/>
<path d="M249.25 595.73 L249.52 595.73 L249.57 596.27 L249.62 596.82 L249.68 597.36 L249.75 597.90 L249.84 598.44 L249.95 598.98 L250.07 599.52 L250.22 600.07 L250.40 600.61 L250.62 601.15 L250.86 601.69 L251.15 602.23 L251.49 602.77 L251.88 603.32 L252.32 603.86 L252.82 604.40 L253.38 604.94 L254.01 605.48 L254.70 606.02 L255.47 606.57 L256.29 607.11 L257.19 607.65 L258.14 608.19 L259.15 608.73 L260.20 609.27 L261.29 609.82 L262.40 610.36 L263.53 610.90 L264.66 611.44 L265.76 611.98 L266.83 612.52 L267.85 613.07 L268.80 613.61 L269.66 614.15 L270.42 614.69 L271.06 615.23 L271.57 615.77 L271.95 616.32 L272.17 616.86 L272.25 617.40 L272.17 617.94 L271.95 618.48 L271.57 619.03 L271.06 619.57 L270.42 620.11 L269.66 620.65 L268.80 621.19 L267.85 621.73 L266.83 622.28 L265.76 622.82 L264.66 623.36 L263.53 623.90 L262.40 624.44 L261.29 624.98 L260.20 625.53 L259.15 626.07 L258.14 626.61 L257.19 627.15 L256.29 627.69 L255.47 628.23 L254.70 628.78 L254.01 629.32 L253.38 629.86 L252.82 630.40 L252.32 630.94 L251.88 631.48 L251.49 632.03 L251.15 632.57 L250.86 633.11 L250.62 633.65 L250.40 634.19 L250.22 634.73 L250.07 635.28 L249.95 635.82 L249.84 636.36 L249.75 636.90 L249.68 637.44 L249.62 637.98 L249.57 638.53 L249.52 639.07 L249.25 639.07 Z" fill="#999" fill-opacity="0.74"/>
<path d="M311.75 634.62 L312.02 634.62 L312.07 635.15 L312.12 635.68 L312.18 636.22 L312.25 636.75 L312.34 637.29 L312.45 637.82 L312.57 638.36 L312.73 638.89 L312.91 639.43 L313.12 639.96 L313.37 640.50 L313.66 641.03 L313.99 641.57 L314.38 642.10 L314.82 642.63 L315.32 643.17 L315.89 643.70 L316.51 644.24 L317.21 644.77 L317.97 645.31 L318.80 645.84 L319.69 646.38 L320.64 646.91 L321.65 647.45 L322.71 647.98 L323.79 648.52 L324.91 649.05 L326.04 649.58 L327.16 650.12 L328.27 650.65 L329.34 651.19 L330.35 651.72 L331.30 652.26 L332.16 652.79 L332.92 653.33 L333.56 653.86 L334.07 654.40 L334.45 654.93 L334.67 655.47 L334.75 656.00 L334.67 656.53 L334.45 657.07 L334.07 657.60 L333.56 658.14 L332.92 658.67 L332.16 659.21 L331.30 659.74 L330.35 660.28 L329.34 660.81 L328.27 661.35 L327.16 661.88 L326.04 662.42 L324.91 662.95 L323.79 663.48 L322.71 664.02 L321.65 664.55 L320.64 665.09 L319.69 665.62 L318.80 666.16 L317.97 666.69 L317.21 667.23 L316.51 667.76 L315.89 668.30 L315.32 668.83 L314.82 669.37 L314.38 669.90 L313.99 670.43 L313.66 670.97 L313.37 671.50 L313.12 672.04 L312.91 672.57 L312.73 673.11 L312.57 673.64 L312.45 674.18 L312.34 674.71 L312.25 675.25 L312.18 675.78 L312.12 676.32 L312.07 676.85 L312.02 677.38 L311.75 677.38 Z" fill="#999" fill-opacity="0.74"/>
<path d="M105.95 668.08 L106.22 668.08 L106.26 668.57 L106.31 669.07 L106.37 669.57 L106.44 670.07 L106.53 670.57 L106.64 671.06 L106.76 671.56 L106.91 672.06 L107.09 672.56 L107.30 673.06 L107.55 673.55 L107.83 674.05 L108.17 674.55 L108.55 675.05 L108.99 675.55 L109.49 676.05 L110.05 676.54 L110.67 677.04 L111.36 677.54 L112.12 678.04 L112.95 678.54 L113.84 679.03 L114.80 679.53 L115.80 680.03 L116.86 680.53 L117.95 681.03 L119.07 681.52 L120.20 682.02 L121.33 682.52 L122.43 683.02 L123.51 683.52 L124.53 684.02 L125.48 684.51 L126.35 685.01 L127.11 685.51 L127.75 686.01 L128.27 686.51 L128.64 687.00 L128.87 687.50 L128.95 688.00 L128.87 688.50 L128.64 689.00 L128.27 689.49 L127.75 689.99 L127.11 690.49 L126.35 690.99 L125.48 691.49 L124.53 691.98 L123.51 692.48 L122.43 692.98 L121.33 693.48 L120.20 693.98 L119.07 694.48 L117.95 694.97 L116.86 695.47 L115.80 695.97 L114.80 696.47 L113.84 696.97 L112.95 697.46 L112.12 697.96 L111.36 698.46 L110.67 698.96 L110.05 699.46 L109.49 699.95 L108.99 700.45 L108.55 700.95 L108.17 701.45 L107.83 701.95 L107.55 702.45 L107.30 702.94 L107.09 703.44 L106.91 703.94 L106.76 704.44 L106.64 704.94 L106.53 705.43 L106.44 705.93 L106.37 706.43 L106.31 706.93 L106.26 707.43 L106.22 707.92 L105.95 707.92 Z" fill="#000" fill-opacity="0.7"/>
<path d="M168.45 683.81 L168.72 683.81 L168.76 684.28 L168.81 684.75 L168.87 685.22 L168.95 685.69 L169.04 686.16 L169.14 686.63 L169.27 687.10 L169.42 687.57 L169.60 688.04 L169.81 688.51 L170.06 688.98 L170.35 689.45 L170.68 689.92 L171.07 690.39 L171.51 690.86 L172.01 691.33 L172.57 691.80 L173.19 692.27 L173.89 692.74 L174.65 693.21 L175.48 693.67 L176.37 694.14 L177.32 694.61 L178.33 695.08 L179.38 695.55 L180.47 696.02 L181.59 696.49 L182.72 696.96 L183.84 697.43 L184.95 697.90 L186.02 698.37 L187.04 698.84 L187.99 699.31 L188.85 699.78 L189.61 700.25 L190.26 700.72 L190.77 701.19 L191.15 701.66 L191.37 702.13 L191.45 702.60 L191.37 703.07 L191.15 703.54 L190.77 704.01 L190.26 704.48 L189.61 704.95 L188.85 705.42 L187.99 705.89 L187.04 706.36 L186.02 706.83 L184.95 707.30 L183.84 707.77 L182.72 708.24 L181.59 708.71 L180.47 709.18 L179.38 709.65 L178.33 710.12 L177.32 710.59 L176.37 711.06 L175.48 711.53 L174.65 711.99 L173.89 712.46 L173.19 712.93 L172.57 713.40 L172.01 713.87 L171.51 714.34 L171.07 714.81 L170.68 715.28 L170.35 715.75 L170.06 716.22 L169.81 716.69 L169.60 717.16 L169.42 717.63 L169.27 718.10 L169.14 718.57 L169.04 719.04 L168.95 719.51 L168.87 719.98 L168.81 720.45 L168.76 720.92 L168.72 721.39 L168.45 721.39 Z" fill="#000" fill-opacity="0.7"/>
<path d="M249.25 526.11 L249.52 526.11 L249.56 526.66 L249.62 527.21 L249.68 527.76 L249.75 528.32 L249.84 528.87 L249.94 529.42 L250.07 529.97 L250.22 530.52 L250.40 531.08 L250.61 531.63 L250.86 532.18 L251.15 532.73 L251.49 533.29 L251.87 533.84 L252.31 534.39 L252.81 534.94 L253.37 535.50 L254.00 536.05 L254.70 536.60 L255.46 537.15 L256.28 537.71 L257.18 538.26 L258.13 538.81 L259.14 539.36 L260.19 539.91 L261.28 540.47 L262.40 541.02 L263.52 541.57 L264.65 542.12 L265.76 542.68 L266.83 543.23 L267.85 543.78 L268.79 544.33 L269.66 544.89 L270.42 545.44 L271.06 545.99 L271.57 546.54 L271.95 547.10 L272.17 547.65 L272.25 548.20 L272.17 548.75 L271.95 549.30 L271.57 549.86 L271.06 550.41 L270.42 550.96 L269.66 551.51 L268.79 552.07 L267.85 552.62 L266.83 553.17 L265.76 553.72 L264.65 554.28 L263.52 554.83 L262.40 555.38 L261.28 555.93 L260.19 556.49 L259.14 557.04 L258.13 557.59 L257.18 558.14 L256.28 558.69 L255.46 559.25 L254.70 559.80 L254.00 560.35 L253.37 560.90 L252.81 561.46 L252.31 562.01 L251.87 562.56 L251.49 563.11 L251.15 563.67 L250.86 564.22 L250.61 564.77 L250.40 565.32 L250.22 565.88 L250.07 566.43 L249.94 566.98 L249.84 567.53 L249.75 568.08 L249.68 568.64 L249.62 569.19 L249.56 569.74 L249.52 570.29 L249.25 570.29 Z" fill="#000" fill-opacity="0.7"/>
<path d="M311.75 627.97 L312.03 627.97 L312.07 628.48 L312.12 628.99 L312.18 629.51 L312.26 630.02 L312.34 630.53 L312.45 631.05 L312.58 631.56 L312.73 632.07 L312.91 632.59 L313.13 633.10 L313.38 633.61 L313.67 634.13 L314.01 634.64 L314.39 635.15 L314.84 635.67 L315.34 636.18 L315.90 636.69 L316.53 637.21 L317.23 637.72 L317.99 638.23 L318.82 638.75 L319.71 639.26 L320.66 639.77 L321.67 640.29 L322.72 640.80 L323.81 641.31 L324.93 641.83 L326.05 642.34 L327.17 642.85 L328.28 643.37 L329.35 643.88 L330.36 644.39 L331.31 644.91 L332.17 645.42 L332.92 645.93 L333.56 646.45 L334.07 646.96 L334.45 647.47 L334.67 647.99 L334.75 648.50 L334.67 649.01 L334.45 649.53 L334.07 650.04 L333.56 650.55 L332.92 651.07 L332.17 651.58 L331.31 652.09 L330.36 652.61 L329.35 653.12 L328.28 653.63 L327.17 654.15 L326.05 654.66 L324.93 655.17 L323.81 655.69 L322.72 656.20 L321.67 656.71 L320.66 657.23 L319.71 657.74 L318.82 658.25 L317.99 658.77 L317.23 659.28 L316.53 659.79 L315.90 660.31 L315.34 660.82 L314.84 661.33 L314.39 661.85 L314.01 662.36 L313.67 662.87 L313.38 663.39 L313.13 663.90 L312.91 664.41 L312.73 664.93 L312.58 665.44 L312.45 665.95 L312.34 666.47 L312.26 666.98 L312.18 667.49 L312.12 668.01 L312.07 668.52 L312.03 669.03 L311.75 669.03 Z" fill="#000" fill-opacity="0.7"/>
<line x1="101.50" y1="674.70" x2="101.50" y2="700.30" stroke="#000000" stroke-width="1.75"/>
<line x1="98.25" y1="685.50" x2="98.25" y2="711.50" stroke="#999999" stroke-width="1.75"/>
<line x1="164.00" y1="690.30" x2="164.00" y2="714.10" stroke="#000000" stroke-width="1.75"/>
<line x1="160.75" y1="700.60" x2="160.75" y2="726.00" stroke="#999999" stroke-width="1.75"/>
<line x1="244.80" y1="535.00" x2="244.80" y2="560.70" stroke="#000000" stroke-width="1.75"/>
<line x1="241.55" y1="604.00" x2="241.55" y2="629.70" stroke="#999999" stroke-width="1.75"/>
<line x1="307.30" y1="635.80" x2="307.30" y2="660.50" stroke="#000000" stroke-width="1.75"/>
<line x1="304.05" y1="643.00" x2="304.05" y2="668.40" stroke="#999999" stroke-width="1.75"/>
<circle cx="98.25" cy="698.50" r="4.85" fill="#999999"/>
<circle cx="160.75" cy="713.30" r="4.85" fill="#999999"/>
<circle cx="241.55" cy="617.00" r="4.85" fill="#999999"/>
<circle cx="304.05" cy="655.60" r="4.85" fill="#999999"/>
<path d="M101.50 679.70 L108.25 691.60 L94.75 691.60 Z" fill="#000000"/>
<path d="M164.00 694.30 L170.75 706.20 L157.25 706.20 Z" fill="#000000"/>
<path d="M244.80 539.90 L251.55 551.80 L238.05 551.80 Z" fill="#000000"/>
<path d="M307.30 640.20 L314.05 652.10 L300.55 652.10 Z" fill="#000000"/>
<text transform="translate(1.85 945.45) scale(1.0783 1)" font-size="14.6" fill="#000" font-style="italic">Note.</text>
<text transform="translate(43.74 945.45) scale(0.8497 1)" font-size="14.6" fill="#000">CD</text>
<text transform="translate(67.18 945.45) scale(1.0663 1)" font-size="14.6" fill="#000">=</text>
<text transform="translate(79.14 945.45) scale(0.9918 1)" font-size="14.6" fill="#000">Change</text>
<text transform="translate(130.41 945.45) scale(1.1412 1)" font-size="14.6" fill="#000">-</text>
<text transform="translate(136.63 945.45) scale(1.1036 1)" font-size="14.6" fill="#000">detection;</text>
<text transform="translate(209.39 945.45) scale(0.9402 1)" font-size="14.6" fill="#000">DE</text>
<text transform="translate(232.68 945.45) scale(1.0663 1)" font-size="14.6" fill="#000">=</text>
<text transform="translate(244.28 945.45) scale(1.0310 1)" font-size="14.6" fill="#000">Delayed</text>
<text transform="translate(303.83 945.45) scale(1.1161 1)" font-size="14.6" fill="#000">estimation.</text>
</svg></body></html>
